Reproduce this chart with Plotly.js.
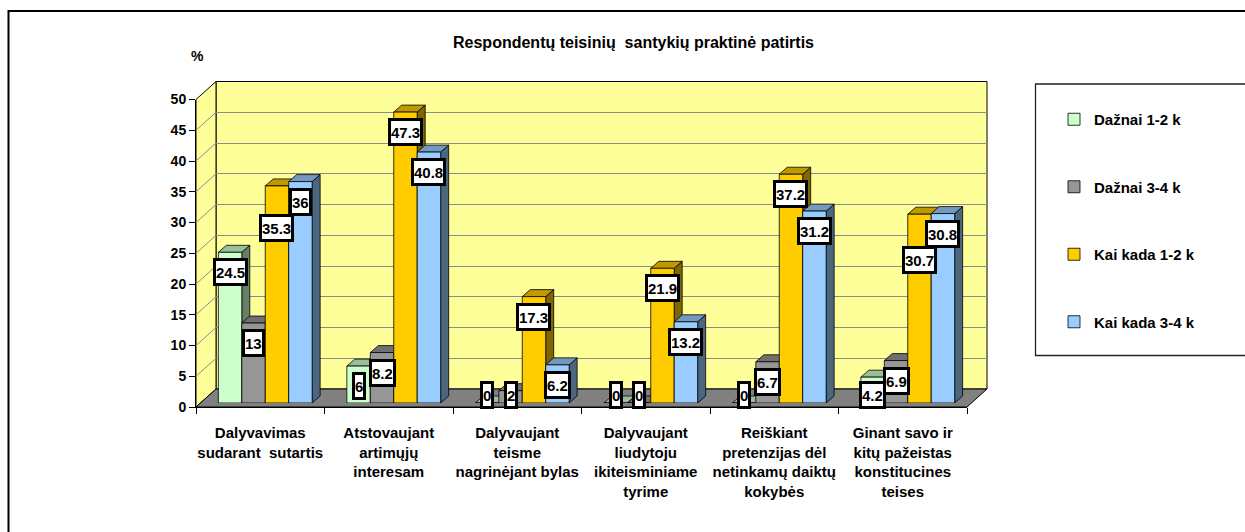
<!DOCTYPE html>
<html>
<head>
<meta charset="utf-8">
<script src="https://cdn.plot.ly/plotly-3.0.1.min.js"></script>
<style>html,body{margin:0;padding:0;background:#fff;}#chart{width:1245px;height:532px;}</style>
</head>
<body>
<div id="chart"></div>
<script>
// ---------- DATA ----------
const categories = [
  'Dalyvavimas<br>sudarant  sutartis',
  'Atstovaujant<br>artimųjų<br>interesam',
  'Dalyvaujant<br>teisme<br>nagrinėjant bylas',
  'Dalyvaujant<br>liudytoju<br>ikiteisminiame<br>tyrime',
  'Reiškiant<br>pretenzijas dėl<br>netinkamų daiktų<br>kokybės',
  'Ginant savo ir<br>kitų pažeistas<br>konstitucines<br>teises'
];
const seriesNames = ['Dažnai 1-2 k', 'Dažnai 3-4 k', 'Kai kada 1-2 k', 'Kai kada 3-4 k'];
const daznai12 = [24.5, 6, 0, 0, 0, 4.2];
const daznai34 = [13, 8.2, 2, 0, 6.7, 6.9];
const kaiKada12 = [35.3, 47.3, 17.3, 21.9, 37.2, 30.7];
const kaiKada34 = [36, 40.8, 6.2, 13.2, 31.2, 30.8];
const titleText = 'Respondentų teisinių  santykių praktinė patirtis';
const yUnit = '%';
const yTicks = [0, 5, 10, 15, 20, 25, 30, 35, 40, 45, 50];

// ---------- STYLE ----------
const FONT = 'Liberation Sans, Arial, Helvetica, sans-serif';
const frontCol = ['#CCFFCC', '#969696', '#FFCC00', '#99CCFF'];
const topCol   = ['#99BF99', '#707070', '#BF9900', '#7399BF'];
const sideCol  = ['#667F66', '#4B4B4B', '#806600', '#4C667F'];
const series = [daznai12, daznai34, kaiKada12, kaiKada34];

const W = 1245, H = 532;
const FX0 = 196, FX1 = 967, FYB = 407, FYT = 99.5;
const BACK_DX = 20, BACK_DY = 18;
const BAR_DX = 5, BAR_DY = 4;
const DEPTH_DX = 8, DEPTH_DY = 7;
const BARGAP = 0.27;
const fx = p => p / W;
const fy = p => 1 - p / H;

const nCat = categories.length;
const pxPerCat = (FX1 - FX0) / nCat;
const pxPerUnit = (FYB - FYT) / 50;

// ---------- TRACES ----------
const traces = [];
traces.push({x: [null], y: [null], xaxis: 'x', yaxis: 'y', type: 'scatter', mode: 'markers', showlegend: false, hoverinfo: 'skip'});
series.forEach((vals, j) => {
  traces.push({
    type: 'bar', x: categories, y: vals, name: seriesNames[j],
    xaxis: 'x2', yaxis: 'y2', legendgroup: 'g' + j,
    marker: {color: frontCol[j], line: {color: '#000', width: 0.8}},
    hoverinfo: 'skip'
  });
});
traces.push({x: categories, y: categories.map(() => null), xaxis: 'x3', yaxis: 'y3', type: 'scatter', mode: 'markers', showlegend: false, hoverinfo: 'skip'});

// ---------- SHAPES ----------
const shapes = [];
shapes.push({type: 'rect', xref: 'paper', yref: 'paper', x0: fx(8.5), x1: 1.02, y0: fy(11), y1: -0.02, line: {color: '#000', width: 2}, layer: 'below'});
shapes.push({type: 'rect', xref: 'paper', yref: 'paper', x0: fx(1035.5), x1: 1.02, y0: fy(84), y1: fy(355.5), line: {color: '#222', width: 1.3}, fillcolor: 'rgba(0,0,0,0)', layer: 'below'});
shapes.push({type: 'rect', xref: 'paper', yref: 'paper', x0: fx(FX0 + BACK_DX), x1: fx(FX1 + BACK_DX), y0: fy(FYB - BACK_DY), y1: fy(FYT - BACK_DY), fillcolor: '#FFFF99', line: {color: '#000', width: 1}, layer: 'below'});
shapes.push({type: 'path', xref: 'paper', yref: 'paper', layer: 'below', fillcolor: '#FFFF99', line: {color: '#000', width: 1},
  path: `M ${fx(FX0)},${fy(FYB)} L ${fx(FX0)},${fy(FYT)} L ${fx(FX0 + BACK_DX)},${fy(FYT - BACK_DY)} L ${fx(FX0 + BACK_DX)},${fy(FYB - BACK_DY)} Z`});
yTicks.slice(1, -1).forEach(t => {
  const py = FYB - t * pxPerUnit;
  shapes.push({type: 'line', xref: 'paper', yref: 'paper', layer: 'below', x0: fx(FX0), y0: fy(py), x1: fx(FX0 + BACK_DX), y1: fy(py - BACK_DY), line: {color: '#8C8C8C', width: 1}});
});
shapes.push({type: 'path', xref: 'paper', yref: 'paper', layer: 'below', fillcolor: '#808080', line: {color: '#000', width: 1},
  path: `M ${fx(FX0)},${fy(FYB)} L ${fx(FX1)},${fy(FYB)} L ${fx(FX1 + BACK_DX)},${fy(FYB - BACK_DY)} L ${fx(FX0 + BACK_DX)},${fy(FYB - BACK_DY)} Z`});

const nS = series.length;
const bw = (1 - BARGAP) / nS;
const ddx = DEPTH_DX / pxPerCat, ddy = DEPTH_DY / pxPerUnit;
series.forEach((vals, j) => {
  vals.forEach((v, i) => {
    const l = i - 0.5 + BARGAP / 2 + j * bw, r = l + bw;
    shapes.push({type: 'path', xref: 'x2', yref: 'y2', layer: 'below', fillcolor: sideCol[j], line: {color: '#000', width: 0.8},
      path: `M ${r},0 L ${r},${v} L ${r + ddx},${v + ddy} L ${r + ddx},${ddy} Z`});
    shapes.push({type: 'path', xref: 'x2', yref: 'y2', layer: 'below', fillcolor: topCol[j], line: {color: '#000', width: 0.8},
      path: `M ${l},${v} L ${r},${v} L ${r + ddx},${v + ddy} L ${l + ddx},${v + ddy} Z`});
  });
});

// ---------- DATA LABELS ----------
const annotations = [];
const barPx = bw * pxPerCat;
const labW = s => String(s).length * 8.3 + 6;
for (let i = 0; i < nCat; i++) {
  const c = series.map(vals => vals[i] * pxPerUnit - Math.min(20, vals[i] * pxPerUnit - 8));
  for (let j = nS - 2; j >= 0; j--) {
    const a = series[j][i], b = series[j + 1][i];
    if (Math.abs(c[j] - c[j + 1]) < 12 && (labW(a) + labW(b)) / 2 > barPx) c[j] = c[j + 1] - 26;
  }
  series.forEach((vals, j) => {
    const v = vals[i];
    annotations.push({
      xref: 'x2', yref: 'y2', x: i - 0.5 + BARGAP / 2 + (j + 0.5) * bw, y: v,
      yshift: c[j] - v * pxPerUnit, showarrow: false, text: String(v),
      font: {family: FONT, size: 15, color: '#000', weight: 'bold'},
      bgcolor: '#fff', bordercolor: '#000', borderwidth: 3, borderpad: 0, height: 22, valign: 'middle',
      xanchor: 'center', yanchor: 'middle'
    });
  });
}
annotations.push({xref: 'paper', yref: 'paper', x: fx(197), y: fy(56), text: yUnit, showarrow: false,
  font: {family: FONT, size: 14, color: '#000', weight: 'bold'}, xanchor: 'center', yanchor: 'middle'});

// ---------- LAYOUT ----------
const layout = {
  width: W, height: H, autosize: false,
  margin: {l: 0, r: 0, t: 0, b: 0, pad: 0},
  paper_bgcolor: '#fff', plot_bgcolor: 'rgba(0,0,0,0)',
  font: {family: FONT, size: 14, color: '#000', weight: 'bold'},
  title: {text: titleText, x: fx(633.5), xanchor: 'center', y: fy(42), yanchor: 'middle', xref: 'paper', yref: 'paper',
    font: {family: FONT, size: 16, color: '#000', weight: 'bold'}},
  barmode: 'group', bargap: BARGAP, bargroupgap: 0,
  showlegend: true,
  legend: {x: fx(1054), y: fy(103), xanchor: 'left', yanchor: 'top', bgcolor: 'rgba(0,0,0,0)', borderwidth: 0,
    font: {family: FONT, size: 15, color: '#000', weight: 'bold'}, tracegroupgap: 45, itemwidth: 30},
  xaxis: {domain: [fx(FX0 + BACK_DX), fx(FX1 + BACK_DX)], range: [0, 1], visible: false, fixedrange: true, anchor: 'y'},
  yaxis: {domain: [fy(FYB - BACK_DY), fy(FYT - BACK_DY)], range: [0, 50], tickvals: yTicks, showgrid: true, gridcolor: '#8C8C8C', gridwidth: 1,
    showticklabels: false, ticks: '', zeroline: false, showline: false, anchor: 'x', fixedrange: true},
  xaxis2: {domain: [fx(FX0 + BAR_DX), fx(FX1 + BAR_DX)], type: 'category', range: [-0.5, nCat - 0.5], visible: false, anchor: 'y2', fixedrange: true},
  yaxis2: {domain: [fy(FYB - BAR_DY), fy(FYT - BAR_DY)], range: [0, 50], visible: false, anchor: 'x2', fixedrange: true},
  xaxis3: {domain: [fx(FX0), fx(FX1)], type: 'category', range: [-0.5, nCat - 0.5], anchor: 'y3', tickson: 'boundaries', tickangle: 0,
    ticks: 'outside', ticklen: 6, tickcolor: '#000', showline: true, linecolor: '#000', linewidth: 1, showgrid: false, zeroline: false,
    ticklabelstandoff: 12,
    tickfont: {family: FONT, size: 15, color: '#000', weight: 'bold'}, fixedrange: true},
  yaxis3: {domain: [fy(FYB), fy(FYT)], range: [0, 50], tickvals: yTicks, anchor: 'x3', ticks: 'outside', ticklen: 6, tickcolor: '#000',
    showline: true, linecolor: '#000', linewidth: 1, showgrid: false, zeroline: false,
    tickfont: {family: FONT, size: 14, color: '#000', weight: 'bold'}, fixedrange: true},
  shapes: shapes,
  annotations: annotations
};

Plotly.newPlot('chart', traces, layout, {displayModeBar: false, staticPlot: true});
</script>
</body>
</html>
